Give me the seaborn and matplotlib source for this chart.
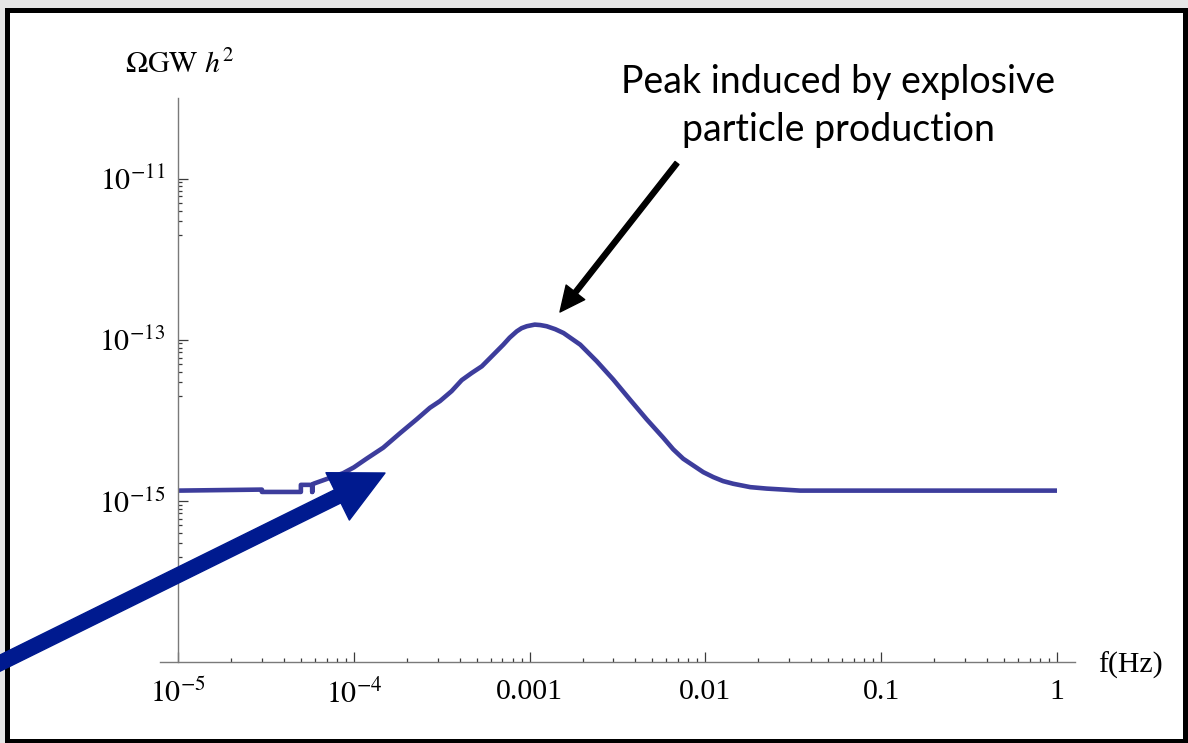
import numpy as np
import pandas as pd
import seaborn as sns
import matplotlib
matplotlib.use("Agg")
import matplotlib.pyplot as plt
from matplotlib.patches import FancyArrowPatch, Rectangle
from matplotlib.ticker import FixedLocator, FixedFormatter, NullFormatter

# ---------------- data ----------------
freq_hz = [
    1.0e-5, 3.0e-5, 3.0e-5, 5.0e-5, 5.0e-5, 5.8e-5, 5.8e-5, 5.8e-5,
    5.89e-5, 8.71e-5, 1.0e-4, 1.18e-4, 1.47e-4, 1.83e-4, 2.28e-4, 2.71e-4,
    3.09e-4, 3.60e-4, 4.11e-4, 4.69e-4, 5.35e-4, 5.96e-4, 7.09e-4, 7.7e-4,
    8.45e-4, 9.0e-4, 9.64e-4, 1.07e-3, 1.15e-3, 1.25e-3, 1.4e-3, 1.56e-3,
    1.94e-3, 2.41e-3, 2.99e-3, 3.72e-3, 4.63e-3, 5.76e-3, 6.56e-3, 7.48e-3,
    8.53e-3, 9.73e-3, 1.11e-2, 1.26e-2, 1.44e-2, 1.80e-2, 2.23e-2, 2.78e-2,
    3.46e-2, 0.098, 1.0,
]
omega_gw_h2 = [
    1.34e-15, 1.38e-15, 1.29e-15, 1.29e-15, 1.58e-15, 1.58e-15, 1.29e-15, 1.55e-15,
    1.63e-15, 2.21e-15, 2.60e-15, 3.33e-15, 4.57e-15, 6.90e-15, 1.03e-14, 1.43e-14,
    1.73e-14, 2.30e-14, 3.15e-14, 3.87e-14, 4.68e-14, 5.93e-14, 8.69e-14, 1.06e-13,
    1.27e-13, 1.39e-13, 1.47e-13, 1.54e-13, 1.52e-13, 1.47e-13, 1.35e-13, 1.21e-13,
    8.69e-14, 5.40e-14, 3.21e-14, 1.81e-14, 1.03e-14, 6.07e-15, 4.36e-15, 3.33e-15,
    2.75e-15, 2.27e-15, 1.97e-15, 1.76e-15, 1.63e-15, 1.48e-15, 1.42e-15, 1.38e-15,
    1.34e-15, 1.34e-15, 1.34e-15,
]
x_tick_values = [1e-5, 1e-4, 1e-3, 1e-2, 1e-1, 1.0]
x_tick_labels = [r"$10^{-5}$", r"$10^{-4}$", "0.001", "0.01", "0.1", "1"]
y_tick_values = [1e-15, 1e-13, 1e-11]
y_tick_labels = [r"$10^{-15}$", r"$10^{-13}$", r"$10^{-11}$"]
y_axis_label = r"$\Omega\mathrm{GW}\ h^2$"
x_axis_label = "f(Hz)"
annotation_lines = ["Peak induced by explosive", "particle production"]

# ---------------- style ----------------
sns.set_style("white")
plt.rcParams["font.family"] = ["Liberation Serif", "DejaVu Serif"]
plt.rcParams["mathtext.fontset"] = "stix"
plt.rcParams["text.color"] = "black"
plt.rcParams["xtick.labelcolor"] = "black"
plt.rcParams["ytick.labelcolor"] = "black"

W, H = 1188, 743
fig = plt.figure(figsize=(W / 100, H / 100), dpi=100)
fig.patch.set_facecolor("#e6e6e6")

# slide frame
frame = Rectangle((6.5 / W, 2.5 / H), (1185 - 6.5) / W, (740.5 - 9.5) / H,
                  transform=fig.transFigure, facecolor="white",
                  edgecolor="black", linewidth=3.6, zorder=-5)
fig.add_artist(frame)

ax = fig.add_axes([160 / W, 81 / H, 915 / W, 564 / H])
ax.patch.set_alpha(0)

df = pd.DataFrame({"f": freq_hz, "omega": omega_gw_h2})
sns.lineplot(data=df, x="f", y="omega", estimator=None, sort=False,
             color="#3d3d9c", linewidth=3.3, ax=ax,
             solid_joinstyle="round", solid_capstyle="butt")

ax.set_xscale("log")
ax.set_yscale("log")
ax.set_xlim(10 ** -5.1024, 10 ** 0.1024)
ax.set_ylim(1e-17, 1e-10)
ax.set_xlabel("")
ax.set_ylabel("")

# ticks
ax.xaxis.set_major_locator(FixedLocator(x_tick_values))
ax.xaxis.set_major_formatter(FixedFormatter(x_tick_labels))
x_minor = [m * 10.0 ** n for n in range(-5, 0) for m in range(2, 10)]
ax.xaxis.set_minor_locator(FixedLocator(x_minor))
ax.xaxis.set_minor_formatter(NullFormatter())

ax.yaxis.set_major_locator(FixedLocator(y_tick_values))
ax.yaxis.set_major_formatter(FixedFormatter(y_tick_labels))
y_minor = [m * v / 10.0 for v in y_tick_values for m in range(2, 10)]
ax.yaxis.set_minor_locator(FixedLocator(y_minor))
ax.yaxis.set_minor_formatter(NullFormatter())

ax.tick_params(axis="both", which="both", bottom=True, left=True,
               top=False, right=False)
ax.tick_params(axis="both", which="major", direction="in", length=7.5,
               width=0.9, color="#3a3a3a", labelsize=21.5)
ax.tick_params(axis="both", which="minor", direction="in", length=3.2,
               width=0.9, color="#3a3a3a")
ax.tick_params(axis="x", which="major", pad=12)
ax.tick_params(axis="y", which="major", pad=9)

for s in ["top", "right"]:
    ax.spines[s].set_visible(False)
ax.spines["left"].set_position(("data", 1e-5))
for s in ["left", "bottom"]:
    ax.spines[s].set_color("#7a7a7a")
    ax.spines[s].set_linewidth(1.0)

# axis labels
fig.text(125 / W, 1 - 65 / H, y_axis_label, ha="left", va="center", fontsize=21.5)
fig.text(1098 / W, 1 - 665 / H, x_axis_label, ha="left", va="center", fontsize=21.5)

# annotation text
fig.text(838 / W, 1 - 82 / H, annotation_lines[0], ha="center", va="center",
         fontsize=27, family=["Lato", "DejaVu Sans"], color="black")
fig.text(838 / W, 1 - 130 / H, annotation_lines[1], ha="center", va="center",
         fontsize=27, family=["Lato", "DejaVu Sans"], color="black")

# black arrow to peak
black_arrow = FancyArrowPatch((677, H - 163), (560, H - 312), transform=None,
                              arrowstyle="simple,head_length=18,head_width=17,tail_width=3.6",
                              mutation_scale=1, shrinkA=0, shrinkB=0,
                              color="black", zorder=10)
fig.add_artist(black_arrow)

# thick blue arrow
blue_arrow = FancyArrowPatch((-20, H - 673), (385, H - 473), transform=None,
                             arrowstyle="simple,head_length=38,head_width=38,tail_width=10.5",
                             mutation_scale=1, shrinkA=0, shrinkB=0,
                             color="#001a8f", zorder=10)
fig.add_artist(blue_arrow)

fig.savefig("out.png", dpi=100, facecolor=fig.get_facecolor())
